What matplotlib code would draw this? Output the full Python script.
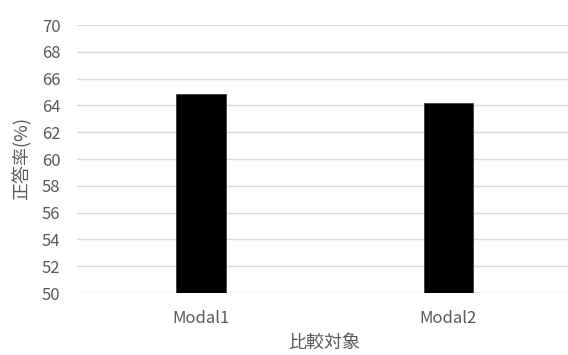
import matplotlib.pyplot as plt

plt.rcParams['font.family'] = ['Noto Sans CJK JP', 'DejaVu Sans']

categories = ['Modal1', 'Modal2']
accuracy = [64.85, 64.2]
y_ticks = list(range(50, 71, 2))

text_color = '#595959'

fig = plt.figure(figsize=(5.68, 3.55), dpi=100)
ax = fig.add_axes([77 / 568, 1 - 293 / 355, (572 - 77) / 568, (293 - 25) / 355])

ax.bar(categories, accuracy, width=0.2, color='black', edgecolor='#404040', linewidth=0.6, zorder=3)

ax.set_xlim(-0.5, 1.5)
ax.set_ylim(50, 70)
ax.set_yticks(y_ticks)
ax.grid(axis='y', color='#d9d9d9', linewidth=1.0, zorder=0)
for s in ax.spines.values():
    s.set_visible(False)
ax.tick_params(axis='both', length=0, colors=text_color, labelsize=12)
ax.tick_params(axis='x', pad=12)
ax.tick_params(axis='y', pad=12)

# the reference clips this label at the bottom edge; keep it just inside
ax.set_xlabel('比較対象', color=text_color, fontsize=13, va='center')
ax.set_ylabel('正答率(%)', color=text_color, fontsize=13, va='center')
ax.xaxis.set_label_coords(0.5, -0.188)
ax.yaxis.set_label_coords(-0.112, 0.5)

fig.savefig('out.png', dpi=100)
